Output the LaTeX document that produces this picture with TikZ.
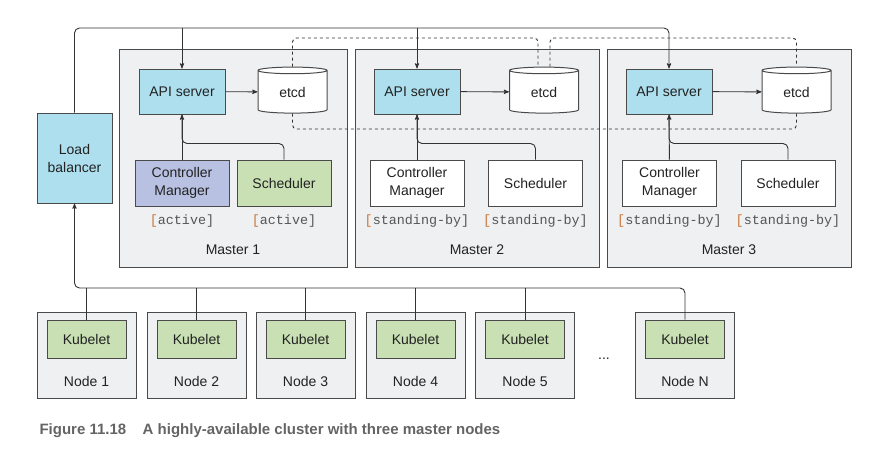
\documentclass[tikz,border=0pt]{standalone}
\usepackage{fontspec}
\setmainfont{Liberation Sans}
\setsansfont{Liberation Sans}
\setmonofont{Liberation Mono}
\usepackage{tikz}
\usetikzlibrary{positioning,calc,arrows,shapes.geometric}
\definecolor{panelgray}{HTML}{EFF0F2}
\definecolor{edgegray}{HTML}{4A4A4A}
\definecolor{linegray}{HTML}{333333}
\definecolor{apiblue}{HTML}{ADDFEF}
\definecolor{cmblue}{HTML}{B8C1E1}
\definecolor{schedgreen}{HTML}{C8E0B3}
\definecolor{txtgray}{HTML}{222222}
\definecolor{monogray}{HTML}{555555}
\definecolor{bracketorange}{HTML}{C9773A}
\definecolor{capgray}{HTML}{646464}
\newcommand{\stlabel}[1]{{\color{bracketorange}[}#1]}

\begin{document}
\begin{tikzpicture}[x=1pt,y=-1pt,>=stealth',
	font=\fontsize{14}{18}\selectfont, text=txtgray,
	box/.style={draw=edgegray, line width=1pt, inner sep=0pt, align=center},
	master/.style={box, fill=panelgray, minimum height=218pt},
	api/.style={box, fill=apiblue, minimum width=86pt, minimum height=45pt},
	comp/.style={box, fill=white, minimum width=94pt, minimum height=46pt},
	db/.style={cylinder, shape border rotate=90, aspect=0.25, draw=edgegray,
		line width=1pt, cylinder uses custom fill, cylinder body fill=white,
		cylinder end fill=white, minimum width=69pt, minimum height=46pt, inner sep=0pt},
	state/.style={font=\fontsize{13.4}{16}\selectfont\ttfamily, text=monogray},
	worker/.style={box, fill=panelgray, minimum width=99pt, minimum height=86pt},
	kubelet/.style={box, fill=schedgreen, minimum width=79pt, minimum height=38pt},
	link/.style={draw=linegray, line width=0.9pt},
	sync/.style={link, dashed, rounded corners=4pt},
	]
	\useasboundingbox (0,0) rectangle (891,464);
	\coordinate (bus) at (0,28);
	\coordinate (dtop) at (0,38);
	\coordinate (dbot) at (0,129);
	\coordinate (nbus) at (0,288);

	% masters
	\node[master, minimum width=228pt] (m1) at (233,158) {};
	\node[master, minimum width=244pt] (m2) at (477,158) {};
	\node[master, minimum width=244pt] (m3) at (729,158) {};
	\node (m1l) at (233,250) {Master 1};
	\node (m2l) at (477,250) {Master 2};
	\node (m3l) at (729,250) {Master 3};

	\node[box, fill=apiblue, minimum width=75pt, minimum height=90pt] (lb) at (74.5,158) {Load\\balancer};

	\node[api] (api1) at (182,91.5) {API server};
	\node[api] (api2) at (417,91.5) {API server};
	\node[api] (api3) at (669,91.5) {API server};
	\node[db] (e1) at (292.5,92) {etcd};
	\node[db] (e2) at (544,92) {etcd};
	\node[db] (e3) at (796.5,92) {etcd};

	\node[comp, fill=cmblue] (c1) at (182,183) {Controller\\Manager};
	\node[comp, fill=schedgreen] (s1) at (284,183) {Scheduler};
	\node[comp] (c2) at (417,183) {Controller\\Manager};
	\node[comp] (s2) at (535.5,183) {Scheduler};
	\node[comp] (c3) at (669.5,183) {Controller\\Manager};
	\node[comp] (s3) at (788,183) {Scheduler};

	\node[state] (c1s) at (182,221) {\stlabel{active}};
	\node[state] (s1s) at (284,221) {\stlabel{active}};
	\node[state] (c2s) at (417,221) {\stlabel{standing-by}};
	\node[state] (s2s) at (535.5,221) {\stlabel{standing-by}};
	\node[state] (c3s) at (669.5,221) {\stlabel{standing-by}};
	\node[state] (s3s) at (788,221) {\stlabel{standing-by}};

	% workers
	\node[worker] (n1) at (86.5,355) {};
	\node[worker] (n2) at (196.5,355) {};
	\node[worker] (n3) at (305.5,355) {};
	\node[worker] (n4) at (415.5,355) {};
	\node[worker] (n5) at (525,355) {};
	\node[worker] (n6) at (685,355) {};
	\node[kubelet] (k1) at (86.5,339) {Kubelet};
	\node[kubelet] (k2) at (196.5,339) {Kubelet};
	\node[kubelet] (k3) at (305.5,339) {Kubelet};
	\node[kubelet] (k4) at (415.5,339) {Kubelet};
	\node[kubelet] (k5) at (525,339) {Kubelet};
	\node[kubelet] (k6) at (685,339) {Kubelet};
	\node (n1l) at (86.5,381) {Node 1};
	\node (n2l) at (196.5,381) {Node 2};
	\node (n3l) at (305.5,381) {Node 3};
	\node (n4l) at (415.5,381) {Node 4};
	\node (n5l) at (525,381) {Node 5};
	\node (n6l) at (685,381) {Node N};
	\node (more) at (604,359) {...};

	\node[anchor=west, font=\fontsize{15}{18}\selectfont\bfseries, text=capgray] (cap) at (36,431)
		{Figure 11.18\hspace{1.1em}A highly-available cluster with three master nodes};

	% connectors
	\draw[link, ->, rounded corners=5pt] (lb.north) -- (lb.north |- bus) -| (api3.north);
	\draw[link, ->] (api1.north |- bus) -- (api1.north);
	\draw[link, ->] (api2.north |- bus) -- (api2.north);

	\path[link, ->]
		(api1) edge (e1)
		(api2) edge (e2)
		(api3) edge (e3)
		(c1) edge (api1)
		(c2) edge (api2)
		(c3) edge (api3)
	;
	\draw[link, rounded corners=5pt] (s1.north) -- ++(0,-16) -| (api1.south);
	\draw[link, rounded corners=5pt] (s2.north) -- ++(0,-16) -| (api2.south);
	\draw[link, rounded corners=5pt] (s3.north) -- ++(0,-16) -| (api3.south);

	\draw[sync] (e1.north) -- (e1.north |- dtop) -| ([xshift=-6pt]e2.north);
	\draw[sync] ([xshift=6pt]e2.north) -- ([xshift=6pt]e2.north |- dtop) -| (e3.north);
	\draw[sync] (e1.south) -- (e1.south |- dbot) -| (e3.south);

	\draw[link, ->, rounded corners=5pt] (k6.north) -- (k6.north |- nbus) -| (lb.south);
	\draw[link] (k1.north |- nbus) -- (k1.north);
	\draw[link] (k2.north |- nbus) -- (k2.north);
	\draw[link] (k3.north |- nbus) -- (k3.north);
	\draw[link] (k4.north |- nbus) -- (k4.north);
	\draw[link] (k5.north |- nbus) -- (k5.north);
\end{tikzpicture}
\end{document}
